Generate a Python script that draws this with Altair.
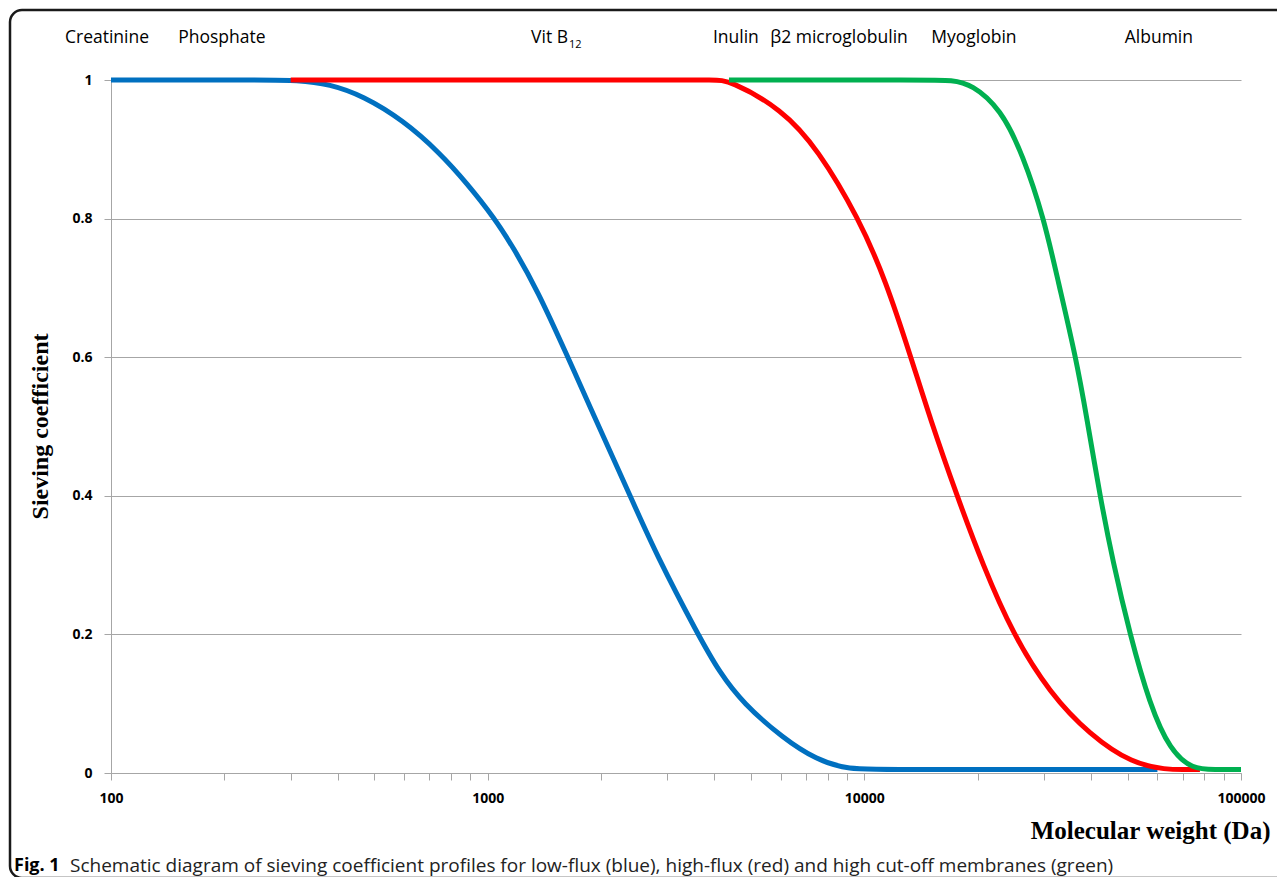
import altair as alt
import pandas as pd

# ---- data (molecular weight in Da, sieving coefficient) ----
low_flux_mw = [100, 250, 312, 381, 467, 596, 746, 881, 1045, 1167, 1352, 1633, 1835, 2389, 2810,
               3614, 4139, 4761, 6083, 7473, 8990, 12000, 60000]
low_flux_sc = [1.0, 1.0, 1.0, 0.994, 0.977, 0.942, 0.895, 0.851, 0.8, 0.759, 0.698, 0.6, 0.538, 0.4, 0.314,
               0.2, 0.144, 0.101, 0.05, 0.019, 0.005, 0.005, 0.005]

high_flux_mw = [300, 3000, 4000, 4372, 6044, 7530, 9676, 11410, 13295, 14935, 17613, 20643, 24804, 31100,
                39700, 51640, 63580, 70000, 77800]
high_flux_sc = [1.0, 1.0, 1.0, 1.0, 0.958, 0.900, 0.8, 0.71, 0.6, 0.512, 0.4, 0.3, 0.2, 0.115,
                0.055, 0.013, 0.005, 0.005, 0.005]

hco_mw = [4372, 15000, 16980, 19300, 23040, 26360, 29990, 32650, 36440, 38980, 42220, 45690, 50710,
          57310, 64760, 74520, 85000, 100000]
hco_sc = [1.0, 1.0, 1.0, 0.994, 0.958, 0.892, 0.8, 0.711, 0.6, 0.512, 0.4, 0.305, 0.2,
          0.098, 0.033, 0.005, 0.005, 0.005]

series_colors = ["#0070C0", "#FF0000", "#00B050"]

# solute labels above the plot (name, anchor molecular weight)
solute_names = ["Creatinine", "Phosphate", "Inulin", "\u03b22 microglobulin", "Myoglobin", "Albumin"]
solute_pos = [97.6, 197, 4560, 8565, 19540, 60530]
vit_anchor = 1634  # "Vit B" right edge / subscript "12" left edge

x_ticks = [m * d for d in [100, 1000, 10000] for m in range(1, 10)] + [100000]
y_ticks = [0, 0.2, 0.4, 0.6, 0.8, 1.0]

caption_bold = "Fig. 1"
caption_rest = ("Schematic diagram of sieving coefficient profiles for low-flux (blue), "
                "high-flux (red) and high cut-off membranes (green)")

# ---- build tables ----
def frame(mw, sc):
    return pd.DataFrame({"mw": mw, "sc": sc})

x_scale = alt.Scale(type="log", domain=[100, 100000])
y_scale = alt.Scale(domain=[0, 1])

label_font = "Open Sans"

x_axis = alt.Axis(
    values=x_ticks,
    format="d",
    labelExpr="(datum.value == 100 || datum.value == 1000 || datum.value == 10000 || datum.value == 100000) ? datum.label : ''",
    labelOverlap=False,
    labelFlush=False,
    labelFont=label_font,
    labelFontWeight="bold",
    labelFontSize=14,
    labelColor="#000000",
    labelPadding=11,
    tickSize=7,
    tickColor="#A6A6A6",
    domainColor="#A6A6A6",
    grid=False,
    title="Molecular weight (Da)",
    titleFont="Liberation Serif",
    titleFontSize=25,
    titleFontWeight="bold",
    titleColor="#000000",
    titleAlign="right",
    titleAnchor="end",
    titleBaseline="alphabetic",
    titleX=1159,
    titleY=65,
)

y_axis = alt.Axis(
    values=y_ticks,
    format="~g",
    labelFlush=False,
    labelFont=label_font,
    labelFontWeight="bold",
    labelFontSize=14,
    labelColor="#000000",
    labelPadding=12,
    tickSize=7,
    tickColor="#A6A6A6",
    domainColor="#A6A6A6",
    grid=True,
    gridColor="#A6A6A6",
    gridWidth=1,
    title="Sieving coefficient",
    titleFont="Liberation Serif",
    titleFontSize=24,
    titleFontWeight="bold",
    titleColor="#000000",
    titleAngle=270,
    titleAlign="center",
    titleBaseline="middle",
    titleX=-71,
    titleY=346,
)

X = alt.X("mw:Q", scale=x_scale, axis=x_axis)
Y = alt.Y("sc:Q", scale=y_scale, axis=y_axis)

def line_layer(mw, sc, color):
    return alt.Chart(frame(mw, sc)).mark_line(
        color=color, strokeWidth=5, interpolate="basis", strokeCap="butt"
    ).encode(x=X, y=Y)

blue = line_layer(low_flux_mw, low_flux_sc, series_colors[0])
red = line_layer(high_flux_mw, high_flux_sc, series_colors[1])
green = line_layer(hco_mw, hco_sc, series_colors[2])

top_font = 17.5

solutes = alt.Chart(pd.DataFrame({"name": solute_names, "mw": solute_pos})).mark_text(
    font=label_font, fontSize=top_font, color="#000000", align="center", baseline="middle"
).encode(x=X, y=alt.value(-42), text="name:N")

vit_main = alt.Chart(pd.DataFrame({"name": ["Vit B"], "mw": [vit_anchor]})).mark_text(
    font=label_font, fontSize=top_font, color="#000000", align="right", baseline="middle"
).encode(x=X, y=alt.value(-42), text="name:N")

vit_sub = alt.Chart(pd.DataFrame({"name": ["12"], "mw": [vit_anchor]})).mark_text(
    font=label_font, fontSize=11, color="#000000", align="left", baseline="middle", dx=1
).encode(x=X, y=alt.value(-35), text="name:N")

caption1 = alt.Chart(pd.DataFrame({"t": [caption_bold]})).mark_text(
    font=label_font, fontSize=18, fontWeight="bold", color="#000000", align="left", baseline="middle"
).encode(x=alt.value(-97), y=alt.value(786), text="t:N")

caption2 = alt.Chart(pd.DataFrame({"t": [caption_rest]})).mark_text(
    font=label_font, fontSize=19, color="#222222", align="left", baseline="middle"
).encode(x=alt.value(-41), y=alt.value(786), text="t:N")

border = alt.Chart(pd.DataFrame({"k": [0]})).mark_rect(
    fillOpacity=0, stroke="#1a1a1a", strokeWidth=2.5, cornerRadius=12
).encode(
    x=alt.value(-101), x2=alt.value(1220), y=alt.value(-70), y2=alt.value(798)
)

chart = alt.layer(
    blue, red, green, solutes, vit_main, vit_sub, caption1, caption2, border
).properties(
    width=1130,
    height=693,
    padding={"left": 103, "top": 72, "right": 36, "bottom": 104},
    autosize=alt.AutoSizeParams(type="none"),
    background="#ffffff",
).configure_view(stroke=None)

chart.save("out.html", embed_options={"renderer": "svg", "actions": False})
